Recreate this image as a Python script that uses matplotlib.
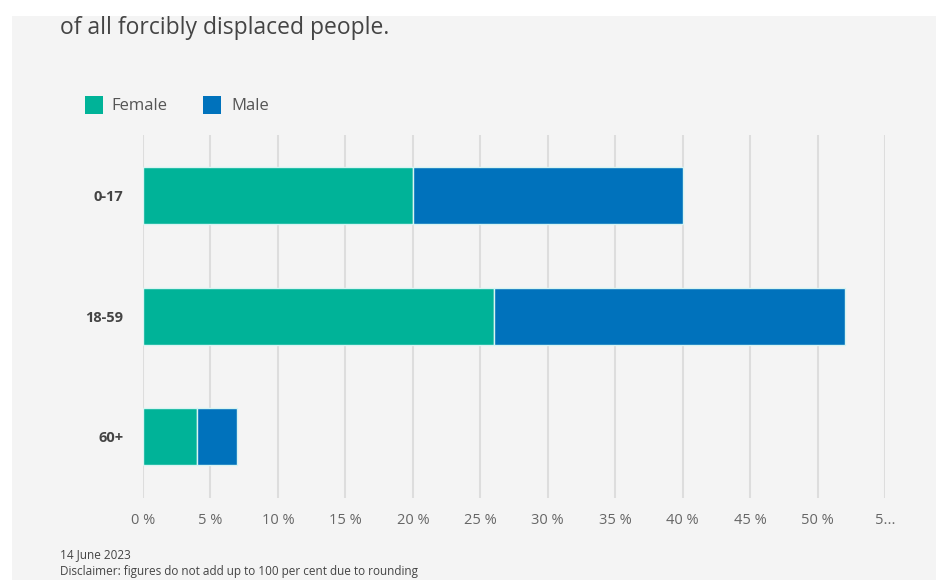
import matplotlib
matplotlib.use('Agg')
from matplotlib import pyplot as plt
from matplotlib.patches import Rectangle

categories = ['0-17', '18-59', '60+']
female = [20, 26, 4]
male = [20, 26, 3]
tick_values = [0, 5, 10, 15, 20, 25, 30, 35, 40, 45, 50, 55]
tick_labels = ['0 %', '5 %', '10 %', '15 %', '20 %', '25 %', '30 %', '35 %',
               '40 %', '45 %', '50 %', '5...']

plt.rcParams['font.family'] = ['Open Sans', 'DejaVu Sans']

W, H = 936, 580
fig = plt.figure(figsize=(W / 100, H / 100), dpi=100)
fig.patch.set_facecolor('white')

# grey panel behind everything
fig.patches.append(Rectangle((12 / W, 0), 1 - 12 / W, 1 - 16 / H,
                             transform=fig.transFigure, facecolor='#f4f4f4',
                             edgecolor='none', zorder=-5))

ax = fig.add_axes([143 / W, 1 - 498 / H, (885 - 143) / W, (498 - 135) / H])
ax.set_facecolor('none')
ax.set_zorder(2)

y = list(range(len(categories)))
ax.barh(y, female, height=0.475, color='#00b398', edgecolor='#d8f4f2',
        linewidth=1, label='Female', zorder=3)
ax.barh(y, male, left=female, height=0.475, color='#0072bc',
        edgecolor='#d8f4f2', linewidth=1, label='Male', zorder=3)

ax.set_xlim(0, 55)
ax.set_ylim(2.51, -0.504)
ax.set_xticks(tick_values)
ax.set_xticklabels(tick_labels, color='#666666', fontsize=10.5)
ax.set_yticks(y)
ax.set_yticklabels(categories, fontweight='bold', color='#444444', fontsize=10.5)
ax.tick_params(axis='both', length=0)
ax.tick_params(axis='x', pad=11)
ax.tick_params(axis='y', pad=14)
for s in ax.spines.values():
    s.set_visible(False)
ax.grid(axis='x', color='#dddddd', linewidth=1.5, zorder=1)
ax.set_axisbelow(True)

fig.text(60 / W, 1 - 28 / H, 'of all forcibly displaced people.', fontsize=16.5,
         color='#444444', va='center', ha='left')

# legend
fig.patches.append(Rectangle((85 / W, 1 - 114 / H), 18 / W, 18 / H,
                             transform=fig.transFigure, facecolor='#00b398'))
fig.text(111 / W, 1 - 106 / H, 'Female', fontsize=12, color='#555555', va='center')
fig.patches.append(Rectangle((203 / W, 1 - 114 / H), 18 / W, 18 / H,
                             transform=fig.transFigure, facecolor='#0072bc'))
fig.text(231 / W, 1 - 106 / H, 'Male', fontsize=12, color='#555555', va='center')

fig.text(60 / W, 1 - 555 / H, '14 June 2023', fontsize=8.5, color='#444444', va='center')
fig.text(60 / W, 1 - 571 / H, 'Disclaimer: figures do not add up to 100 per cent due to rounding',
         fontsize=8.5, color='#444444', va='center')

fig.savefig('out.png', dpi=100, facecolor=fig.get_facecolor())
